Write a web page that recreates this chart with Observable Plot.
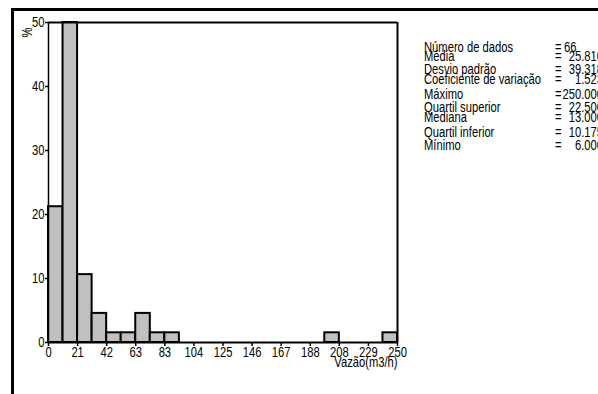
<!DOCTYPE html>
<html>
<head>
<meta charset="utf-8">
<script src="https://cdn.jsdelivr.net/npm/d3@7"></script>
<script src="https://cdn.jsdelivr.net/npm/@observablehq/plot@0.6"></script>
<style>
  html, body { margin: 0; padding: 0; background: #fff; overflow: hidden; }
  #page { position: relative; width: 598px; height: 394px; overflow: hidden;
          font-family: "Liberation Sans", Arial, sans-serif; }
  #frame { position: absolute; left: 11px; top: 8px; right: -5px; bottom: -5px;
           border-top: 3px solid #000; border-left: 3px solid #000; }
  #chart { position: absolute; left: 0; top: 0; }
  .stat { position: absolute; font-size: 14px; line-height: 1; color: #000; white-space: nowrap; }
</style>
</head>
<body>
<div id="page">
  <div id="frame"></div>
  <div id="chart"></div>
</div>
<script>
// Flow-rate histogram: 24 classes between 0 and 250 m3/h
const binCount = 24;
const xMax = 250;
const nData = 66;
// number of samples falling in each class
const counts = [14, 33, 7, 3, 1, 1, 3, 1, 1, 0, 0, 0, 0, 0, 0, 0, 0, 0, 0, 1, 0, 0, 0, 1];
const xTickLabels = ["0", "21", "42", "63", "83", "104", "125", "146", "167", "188", "208", "229", "250"];
const yTicks = [0, 10, 20, 30, 40, 50];

// summary statistics printed next to the histogram
const statNames = ["Número de dados", "Média", "Desvio padrão", "Coeficiente de variação",
  "Máximo", "Quartil superior", "Mediana", "Quartil inferior", "Mínimo"];
const statValues = ["66", "25.810", "39.318", "1.523", "250.000", "22.500", "13.000", "10.175", "6.000"];

// condensed look: every label is squeezed horizontally around its anchor
const squeeze = 0.8;

const binWidth = xMax / binCount;
const bins = counts.map((c, i) => ({x1: i * binWidth, x2: (i + 1) * binWidth, pct: c / nData * 100}))
  .filter(d => d.pct > 0);
const xTicks = xTickLabels.map((_, i) => i * xMax / (xTickLabels.length - 1));

const chart = Plot.plot({
  width: 598,
  height: 394,
  marginLeft: 48,
  marginRight: 201,
  marginTop: 22,
  marginBottom: 52,
  style: {fontFamily: '"Liberation Sans", Arial, sans-serif', fontSize: "14px", color: "#000", background: "transparent"},
  x: {domain: [0, xMax]},
  y: {domain: [0, 50]},
  marks: [
    Plot.rectY(bins, {x1: "x1", x2: "x2", y: "pct", fill: "#c0c0c0", stroke: "#000", strokeWidth: 2}),
    Plot.ruleY([0], {stroke: "#000", strokeWidth: 2}),
    Plot.ruleY([50], {stroke: "#000", strokeWidth: 2}),
    Plot.ruleX([xMax], {stroke: "#000", strokeWidth: 2}),
    Plot.ruleX([0], {stroke: "#000", strokeWidth: 1.5}),
    Plot.axisX({ticks: xTicks, tickFormat: (d, i) => xTickLabels[i], tickSize: 4, tickPadding: 1, label: null, strokeWidth: 1.5}),
    Plot.axisY({ticks: yTicks, tickSize: 3, tickPadding: 1, label: null, strokeWidth: 1.5}),
    Plot.text(["Vazão(m3/h)"], {frameAnchor: "bottom-right", textAnchor: "end", dy: 24, fontSize: 14}),
    Plot.text(["%"], {frameAnchor: "top-left", dx: -26, dy: 15, rotate: -90, fontSize: 14})
  ]
});
document.getElementById("chart").appendChild(chart);

// narrow the SVG labels around their own anchor points
chart.querySelectorAll("text").forEach(t => {
  const bb = t.getBBox();
  const anchor = getComputedStyle(t).textAnchor;
  const ax = anchor === "middle" ? bb.x + bb.width / 2 : anchor === "end" ? bb.x + bb.width : bb.x;
  const prev = t.getAttribute("transform") || "";
  t.setAttribute("transform", `${prev} translate(${ax},0) scale(${squeeze},1) translate(${-ax},0)`);
});

// statistics block
const page = document.getElementById("page");
const rowTops = [40, 49, 62, 72, 87, 100, 110, 125, 138];
function addStat(text, top, left, origin, extra) {
  const el = document.createElement("div");
  el.className = "stat";
  el.style.top = top + "px";
  el.style.left = left + "px";
  el.style.transform = `scaleX(${squeeze})`;
  el.style.transformOrigin = origin;
  Object.assign(el.style, extra || {});
  el.textContent = text;
  page.appendChild(el);
}
statNames.forEach((name, i) => {
  addStat(name, rowTops[i], 424, "left top");
  addStat("=", rowTops[i], 555, "left top");
  if (i === 0) {
    addStat(statValues[i], rowTops[i], 564, "left top");
  } else {
    addStat(statValues[i], rowTops[i], 503, "right top", {width: "100px", textAlign: "right"});
  }
});
</script>
</body>
</html>
